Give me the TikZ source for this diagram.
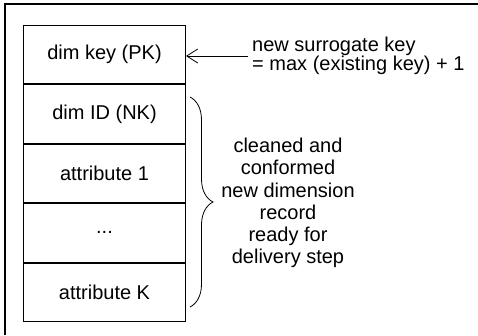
\documentclass[tikz,border=0pt]{standalone}
\usepackage{fontspec}
\setmainfont{Liberation Sans}
\usepackage{tikz}
\usetikzlibrary{positioning,arrows.meta,decorations.pathreplacing}

\begin{document}
\begin{tikzpicture}[x=1pt, y=-1pt,
        field/.style={draw, line width=1pt, minimum width=162pt, minimum height=58.4pt,
            inner sep=0pt, font=\fontsize{20}{23}\selectfont},
        note/.style={align=left, inner sep=4pt, font=\fontsize{20}{18.4}\selectfont},
        remark/.style={align=center, inner sep=0pt, font=\fontsize{20}{22.3}\selectfont}]
        \useasboundingbox (0,0) rectangle (478,335);
        \draw[line width=1.3pt] (5,335) -- (5,4) -- (478,4);
        \node[field, anchor=north west] (dimkey) at (23,25) {dim key (PK)};
        \node[field, below=0pt of dimkey] (dimid) {dim ID (NK)};
        \node[field, below=0pt of dimid] (attrone) {attribute 1};
        \node[field, below=0pt of attrone] (dots) {...};
        \node[field, below=0pt of dots] (attrk) {attribute K};
        \node[note, anchor=west] (newkey) at (248,56) {new surrogate key\\= max (existing key) + 1};
        \node[remark] (record) at (288,203) {cleaned and\\conformed\\new dimension\\record\\ready for\\delivery step};
        \coordinate (bracetop) at (190,97);
        \coordinate (bracebot) at (190,307);
        \draw[-{Straight Barb[length=11pt, width=14pt]}, line width=0.8pt] (newkey.west) -- (newkey.west -| dimkey.east);
        \draw[line width=0.8pt, decorate, decoration={brace, amplitude=23pt}] (bracetop) -- (bracebot);
    \end{tikzpicture}
\end{document}
